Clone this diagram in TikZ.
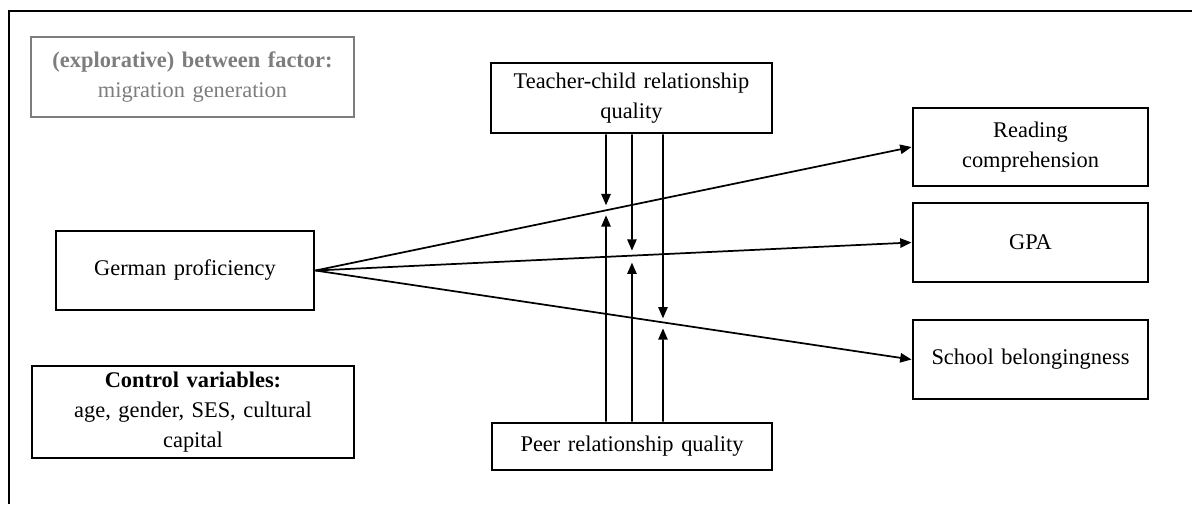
\documentclass[tikz,border=0pt]{standalone}
\usepackage{fontspec}
\setmainfont{Liberation Serif}[WordSpace={1.35,0,0}]
\usetikzlibrary{arrows.meta,calc}
\definecolor{grayc}{RGB}{125,125,125}
\tikzset{
  box/.style={draw=black, line width=2.2pt, align=center, inner sep=0pt,
    font=\fontsize{16.8}{22.5}\selectfont},
  graybox/.style={box, draw=grayc, text=grayc, line width=2.1pt},
  conn/.style={line width=1.3pt, -{Triangle[width=7pt,length=8.5pt]}},
  frame/.style={line width=1.3pt}
}
\begin{document}
\begin{tikzpicture}[x=0.75pt,y=-0.75pt]
\useasboundingbox (0,0) rectangle (1192,504);
\draw[frame] (9,504) -- (9,11) -- (1192,11);

\node[graybox, minimum width=323*0.75pt, minimum height=80*0.75pt] (mig) at (192.5,77)
  {\textbf{(explorative) between factor:}\\migration generation};
\node[box, minimum width=281*0.75pt, minimum height=70*0.75pt] (tch) at (631.5,98)
  {Teacher-child relationship\\quality};
\node[box, minimum width=280*0.75pt, minimum height=47*0.75pt] (peer) at (632,446.5)
  {Peer relationship quality};
\node[box, minimum width=235*0.75pt, minimum height=78*0.75pt] (read) at (1030.5,147)
  {Reading\\comprehension};
\node[box, minimum width=235*0.75pt, minimum height=79*0.75pt] (gpa) at (1030.5,242.5)
  {GPA};
\node[box, minimum width=235*0.75pt, minimum height=79*0.75pt] (sch) at (1030.5,359.5)
  {School belongingness};
\node[box, minimum width=258*0.75pt, minimum height=79*0.75pt] (ger) at (185,270.5)
  {German proficiency};
\node[box, minimum width=322*0.75pt, minimum height=92*0.75pt] (ctrl) at (193,412)
  {\textbf{Control variables:}\\age, gender, SES, cultural\\capital};

\draw[conn] (ger.east) -- (read.west);
\draw[conn] (ger.east) -- (gpa.west);
\draw[conn] (ger.east) -- (sch.west);

\coordinate (xa) at (606,0);
\coordinate (xb) at (632,0);
\coordinate (xc) at (663,0);
\coordinate (xa2) at (606,500);
\coordinate (xb2) at (632,500);
\coordinate (xc2) at (663,500);
\coordinate (ma) at (intersection of ger.east--read.west and xa--xa2);
\coordinate (mb) at (intersection of ger.east--gpa.west and xb--xb2);
\coordinate (mc) at (intersection of ger.east--sch.west and xc--xc2);

\draw[conn] (tch.south -| xa) -- ($(ma)+(0,-5)$);
\draw[conn] (tch.south -| xb) -- ($(mb)+(0,-5)$);
\draw[conn] (tch.south -| xc) -- ($(mc)+(0,-4)$);
\draw[conn] (peer.north -| xa) -- ($(ma)+(0,5)$);
\draw[conn] (peer.north -| xb) -- ($(mb)+(0,7)$);
\draw[conn] (peer.north -| xc) -- ($(mc)+(0,6)$);
\end{tikzpicture}
\end{document}
